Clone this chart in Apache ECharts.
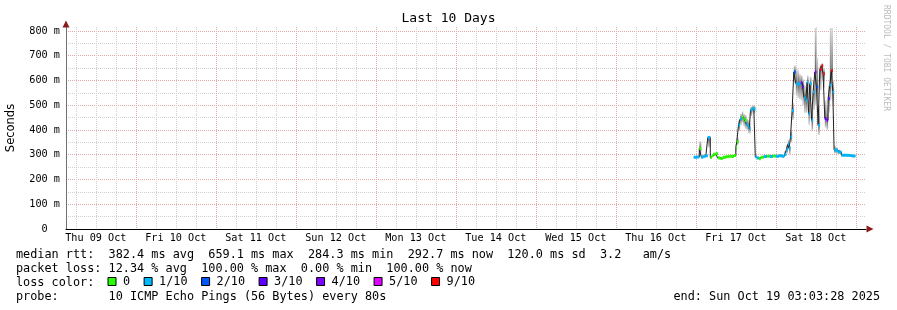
<!DOCTYPE html>
<html><head><meta charset="utf-8">
<script src="https://cdn.jsdelivr.net/npm/echarts@6/dist/echarts.min.js"></script>
<style>html,body{margin:0;padding:0;background:#fff}#c{width:897px;height:310px}</style>
</head><body><div id="c"></div>
<script>
// ---- text ----
const titleText = 'Last 10 Days';
const yAxisTitle = 'Seconds';
const watermarkText = 'RRDTOOL / TOBI OETIKER';
const rttRow = 'median rtt:  382.4 ms avg  659.1 ms max  284.3 ms min  292.7 ms now  120.0 ms sd  3.2   am/s';
const lossRow = 'packet loss: 12.34 % avg  100.00 % max  0.00 % min  100.00 % now';
const lossColorTitle = 'loss color:';
const probeRow = 'probe:       10 ICMP Echo Pings (56 Bytes) every 80s';
const endText = 'end: Sun Oct 19 03:03:28 2025';

// ---- axes (hours since Thu 09 Oct 00:00) ----
const rangeStartHour = 3.05778;   // Thu 09 Oct 03:03:28
const rangeEndHour = 243.05778;   // Sun 19 Oct 03:03:28
const dayLabels = ['Thu 09 Oct','Fri 10 Oct','Sat 11 Oct','Sun 12 Oct','Mon 13 Oct','Tue 14 Oct','Wed 15 Oct','Thu 16 Oct','Fri 17 Oct','Sat 18 Oct'];
const dayLabelHours = [12, 36, 60, 84, 108, 132, 156, 180, 204, 228];
const gridHours = [6,12,18,24,30,36,42,48,54,60,66,72,78,84,90,96,102,108,114,120,126,132,138,144,150,156,162,168,174,180,186,192,198,204,210,216,222,228,234,240];
const yMaxMs = 816;

// ---- samples ----
const sampleHours = [191.40,192.30,193.05,193.65,194.25,195.00,195.60,196.35,196.80,197.25,
  198.00,198.60,199.35,200.10,201.00,201.90,202.80,203.40,204.00,204.30,
  204.81,205.29,205.80,206.25,206.70,207.21,207.69,208.05,208.41,208.95,
  209.40,209.85,210.30,210.90,211.50,212.40,213.30,214.20,215.10,216.00,
  216.90,217.80,218.55,219.15,219.60,219.99,220.41,220.89,221.40,222.00,
  222.51,222.99,223.50,224.01,224.49,225.00,225.39,225.81,226.20,226.71,
  227.19,227.70,228.21,228.69,229.20,229.71,230.19,230.70,231.21,231.69,
  232.20,232.65,233.10,233.49,234.00,234.60,235.20,235.71,236.70,237.90,238.80];
const sampleEndHour = 239.85;
const medianMs = [290,291,325,290,294,296,370,289,296,302,
  304,287,285,290,292,294,293,297,330,353,
  420,445,452,445,438,423,415,405,481,487,
  485,292,287,284,290,293,294,293,295,294,
  296,294,302,320,342,326,372,479,634,587,
  585,587,591,574,529,520,594,466,587,439,
  553,634,574,419,645,659,627,446,439,527,
  581,640,553,319,318,312,310,298,298,297,295];
const lostPings = [1,1,0,1,1,1,1,0,0,0,
  0,0,0,0,0,0,0,0,0,0,
  1,1,0,0,0,1,1,1,1,1,
  1,1,1,0,0,1,0,1,0,1,
  1,1,1,1,1,1,1,1,2,1,
  1,1,4,4,1,1,1,1,1,1,
  1,4,2,1,9,9,9,3,4,3,
  1,9,1,1,1,1,1,1,1,1,1];
const smokeMinMs = [285,286,300,286,289,290,330,285,290,296,
  298,283,281,286,288,289,289,291,318,340,
  395,420,430,415,405,400,388,385,455,470,
  465,287,283,280,286,288,289,289,290,289,
  290,288,295,305,320,300,350,440,590,540,
  530,525,520,500,470,470,530,420,520,395,
  480,500,510,380,560,600,570,410,400,470,
  520,560,500,305,305,303,302,293,293,292,290];
const smokeMaxMs = [294,296,355,300,298,300,375,295,302,308,
  310,292,290,295,297,299,298,302,345,370,
  440,465,475,465,460,445,440,430,495,500,
  498,298,292,289,295,297,299,298,300,299,
  302,300,315,340,360,335,400,510,660,650,
  640,625,620,605,580,575,620,530,615,510,
  600,812,690,500,665,670,650,520,500,580,
  812,812,600,335,330,320,318,303,303,302,301];

// ---- loss colour legend ----
const lossLabels = ['0','1/10','2/10','3/10','4/10','5/10','9/10'];
const lossThresholds = [0,1,2,3,4,5,9];
const lossColors = ['#26ff00','#00b8ff','#0059ff','#5e00ff','#7e00ff','#dd00ff','#ff0000'];

// ---- build ----
const MONO = '"DejaVu Sans Mono", monospace';
const LEG_FONT = 11.83;
const N = sampleHours.length;
const endOf = i => (i + 1 < N ? sampleHours[i + 1] : sampleEndHour);
const bucketOf = c => { let b = 0; lossThresholds.forEach((t, k) => { if (c >= t) b = k; }); return b; };

const smokeData = sampleHours.map((t, i) => [t, endOf(i), smokeMinMs[i], smokeMaxMs[i], medianMs[i]]);
const medianLine = sampleHours.map((t, i) => [t, medianMs[i]]).concat([[sampleEndHour, medianMs[N - 1]]]);

const lossSeries = lossLabels.map((name, b) => ({
  type: 'custom', name, z: 4, clip: true,
  itemStyle: { color: lossColors[b] },
  encode: { x: [0, 1], y: 2 },
  data: sampleHours.map((t, i) => [t, endOf(i), medianMs[i], lostPings[i]])
    .filter(d => bucketOf(d[3]) === b),
  renderItem(params, api) {
    const p0 = api.coord([api.value(0), api.value(2)]);
    const p1 = api.coord([api.value(1), api.value(2)]);
    return { type: 'rect', shape: { x: p0[0], y: p0[1] - 1.5, width: Math.max(p1[0] - p0[0], 1.2), height: 3 },
      style: { fill: lossColors[b] } };
  }
}));

const smokeSeries = {
  type: 'custom', name: 'smoke', z: 1, clip: true, silent: true,
  encode: { x: [0, 1], y: [2, 3] },
  data: smokeData,
  renderItem(params, api) {
    const t0 = api.value(0), t1 = api.value(1);
    const top = api.coord([t0, api.value(3)]);
    const bot = api.coord([t0, api.value(2)]);
    const right = api.coord([t1, api.value(2)]);
    const mid = api.coord([t0, api.value(4)]);
    const h = Math.max(bot[1] - top[1], 1);
    let off = (mid[1] - top[1]) / h; off = Math.min(Math.max(off, 0.02), 0.98);
    return { type: 'rect', shape: { x: top[0], y: top[1], width: Math.max(right[0] - top[0], 1), height: h },
      style: { fill: new echarts.graphic.LinearGradient(0, 0, 0, 1, [
        { offset: 0, color: '#d4d4d4' }, { offset: off, color: '#626262' }, { offset: 1, color: '#d4d4d4' }]) } };
  }
};

const textRows = [[255, rttRow], [268.5, lossRow], [282.5, lossColorTitle], [296.5, probeRow]];
const graphics = textRows.map(([y, s]) => ({
  type: 'text', x: 16, y, silent: true,
  style: { text: s, font: LEG_FONT + 'px ' + MONO, fill: '#000', verticalAlign: 'middle', align: 'left' }
}));
graphics.push({ type: 'text', x: 880, y: 296.5, silent: true,
  style: { text: endText, font: LEG_FONT + 'px ' + MONO, fill: '#000', verticalAlign: 'middle', align: 'right' } });
graphics.push({ type: 'text', x: 886, y: 5, rotation: -Math.PI / 2, silent: true,
  style: { text: watermarkText, font: '8px ' + MONO, fill: '#bcbcbc', verticalAlign: 'middle', align: 'left' } });

const MAJOR = '#e6a9a9', MINOR = '#d0d0d0';
const chart = echarts.init(document.getElementById('c'), null, { renderer: 'canvas' });
chart.setOption({
  animation: false,
  backgroundColor: '#ffffff',
  title: { text: titleText, left: 'center', top: 12, padding: 0,
    textStyle: { fontFamily: MONO, fontSize: 13, fontWeight: 'normal', color: '#000' } },
  grid: { left: 66, right: 31, top: 27, bottom: 81, containLabel: false, outerBoundsMode: 'none' },
  legend: {
    data: lossLabels, left: 107.5, top: 275.5, padding: 0, selectedMode: false,
    icon: 'path://M0 0H10V10H0Z', itemWidth: 12, itemHeight: 8, itemGap: 13.5,
    itemStyle: { borderColor: '#000', borderWidth: 1 },
    textStyle: { fontFamily: MONO, fontSize: LEG_FONT, color: '#000' }
  },
  xAxis: [{
    type: 'value', min: rangeStartHour, max: rangeEndHour, position: 'bottom',
    axisLine: { show: true, lineStyle: { color: '#000', width: 1 } },
    axisTick: { show: false, customValues: gridHours },
    axisLabel: { customValues: dayLabelHours, margin: 4, color: '#000', fontFamily: MONO, fontSize: 10.2,
      formatter: v => dayLabels[dayLabelHours.indexOf(Math.round(v))] || '' },
    splitLine: { show: true, lineStyle: { color: [MINOR, MINOR, MINOR, MAJOR], type: [1, 1], width: 1 } }
  }, {
    type: 'value', min: rangeStartHour, max: rangeEndHour, position: 'bottom',
    axisLine: { show: true, lineStyle: { color: '#8c1c1c', width: 0 }, symbol: ['none', 'triangle'], symbolSize: [7, 7], symbolOffset: [0, 4] },
    axisTick: { show: false }, axisLabel: { show: false }, splitLine: { show: false }
  }],
  yAxis: [{
    type: 'value', min: 0, max: yMaxMs, interval: 50, position: 'left',
    name: yAxisTitle, nameLocation: 'middle', nameRotate: 90, nameGap: 49,
    nameTextStyle: { fontFamily: '"DejaVu Sans", sans-serif', fontSize: 11.5, color: '#000' },
    axisLine: { show: true, lineStyle: { color: '#707070', width: 1 } },
    axisTick: { show: false },
    axisLabel: { margin: 6, color: '#000', fontFamily: MONO, fontSize: 10.2, showMaxLabel: false,
      formatter: v => (v % 100 === 0 && v <= 800) ? (v === 0 ? '0  ' : v + ' m') : '' },
    splitLine: { show: true, showMaxLine: false, lineStyle: { color: [MAJOR, MINOR], type: [1, 1], width: 1 } }
  }, {
    type: 'value', min: 0, max: yMaxMs, position: 'left',
    axisLine: { show: true, lineStyle: { color: '#8c1c1c', width: 0 }, symbol: ['none', 'triangle'], symbolSize: [7, 7], symbolOffset: [0, 3] },
    axisTick: { show: false }, axisLabel: { show: false }, splitLine: { show: false }
  }],
  graphic: graphics,
  series: [smokeSeries, {
    type: 'line', name: 'median', step: 'end', z: 3, silent: true, symbol: 'none',
    lineStyle: { color: '#202020', width: 1 }, data: medianLine
  }].concat(lossSeries)
});
</script></body></html>
